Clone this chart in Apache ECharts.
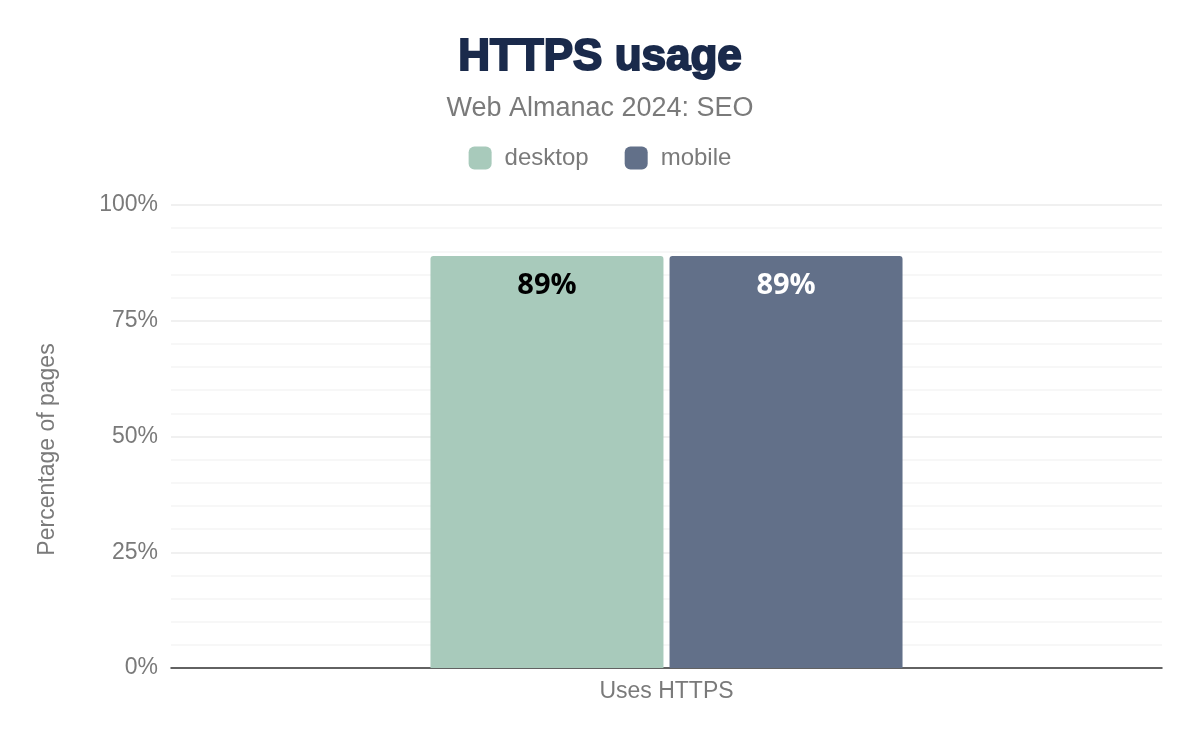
<!DOCTYPE html>
<html>
<head>
<meta charset="utf-8">
<style>
  html, body { margin: 0; padding: 0; background: #fff; }
  #chart { width: 1200px; height: 742px; }
</style>
<script src="https://cdn.jsdelivr.net/npm/echarts@6/dist/echarts.min.js"></script>
</head>
<body>
<div id="chart"></div>
<script>
var categories = ['Uses HTTPS'];
var desktopValues = [89];
var mobileValues = [89];
var yTicks = [0, 25, 50, 75, 100];

var chart = echarts.init(document.getElementById('chart'));

var option = {
    backgroundColor: '#ffffff',
    title: [
        {
            text: 'HTTPS usage',
            left: 'center',
            top: 31,
            textStyle: {
                fontFamily: 'Liberation Sans, Arial, sans-serif',
                fontSize: 44,
                fontWeight: 'bold',
                color: '#1a2a4b',
                textBorderColor: '#1a2a4b',
                textBorderWidth: 2
            }
        },
        {
            text: 'Web Almanac 2024: SEO',
            left: 'center',
            top: 90,
            textStyle: {
                fontFamily: 'Liberation Sans, Arial, sans-serif',
                fontSize: 27,
                fontWeight: 'normal',
                color: '#7a7a7a'
            }
        }
    ],
    legend: {
        top: 141,
        left: 'center',
        itemWidth: 23,
        itemHeight: 23,
        itemGap: 36,
        icon: 'roundRect',
        textStyle: {
            fontFamily: 'Liberation Sans, Arial, sans-serif',
            fontSize: 24,
            color: '#7a7a7a',
            padding: [0, 0, 0, 8]
        },
        data: ['desktop', 'mobile']
    },
    grid: {
        left: 171,
        right: 38,
        top: 205,
        bottom: 74
    },
    xAxis: {
        type: 'category',
        data: categories,
        axisTick: { show: false },
        axisLine: { show: true, lineStyle: { color: '#333333', width: 1.5 } },
        axisLabel: {
            fontFamily: 'Liberation Sans, Arial, sans-serif',
            fontSize: 23,
            color: '#7a7a7a',
            margin: 12
        }
    },
    yAxis: {
        type: 'value',
        min: yTicks[0],
        max: yTicks[yTicks.length - 1],
        interval: 25,
        name: 'Percentage of pages',
        nameLocation: 'middle',
        nameGap: 112,
        nameTextStyle: {
            fontFamily: 'Liberation Sans, Arial, sans-serif',
            fontSize: 23,
            color: '#7a7a7a',
            padding: [0, 26, 0, 0]
        },
        axisLine: { show: false },
        axisTick: { show: false },
        axisLabel: {
            fontFamily: 'Liberation Sans, Arial, sans-serif',
            fontSize: 23,
            color: '#7a7a7a',
            margin: 13,
            formatter: '{value}%'
        },
        splitLine: { lineStyle: { color: '#ebebeb', width: 1.5 } },
        minorTick: { show: false, splitNumber: 5 },
        minorSplitLine: { show: true, lineStyle: { color: '#f5f5f5', width: 1.5 } }
    },
    series: [
        {
            name: 'desktop',
            type: 'bar',
            data: desktopValues,
            barWidth: 233,
            barGap: '2.6%',
            itemStyle: { color: '#a8cabb', borderRadius: [3, 3, 0, 0] },
            label: {
                show: true,
                position: 'insideTop',
                distance: 15,
                formatter: '{c}%',
                fontFamily: 'Open Sans, sans-serif',
                fontWeight: 'bold',
                fontSize: 29,
                color: '#000000'
            }
        },
        {
            name: 'mobile',
            type: 'bar',
            data: mobileValues,
            barWidth: 233,
            itemStyle: { color: '#627089', borderRadius: [3, 3, 0, 0] },
            label: {
                show: true,
                position: 'insideTop',
                distance: 15,
                formatter: '{c}%',
                fontFamily: 'Open Sans, sans-serif',
                fontWeight: 'bold',
                fontSize: 29,
                color: '#ffffff'
            }
        }
    ]
};

chart.setOption(option);
</script>
</body>
</html>
